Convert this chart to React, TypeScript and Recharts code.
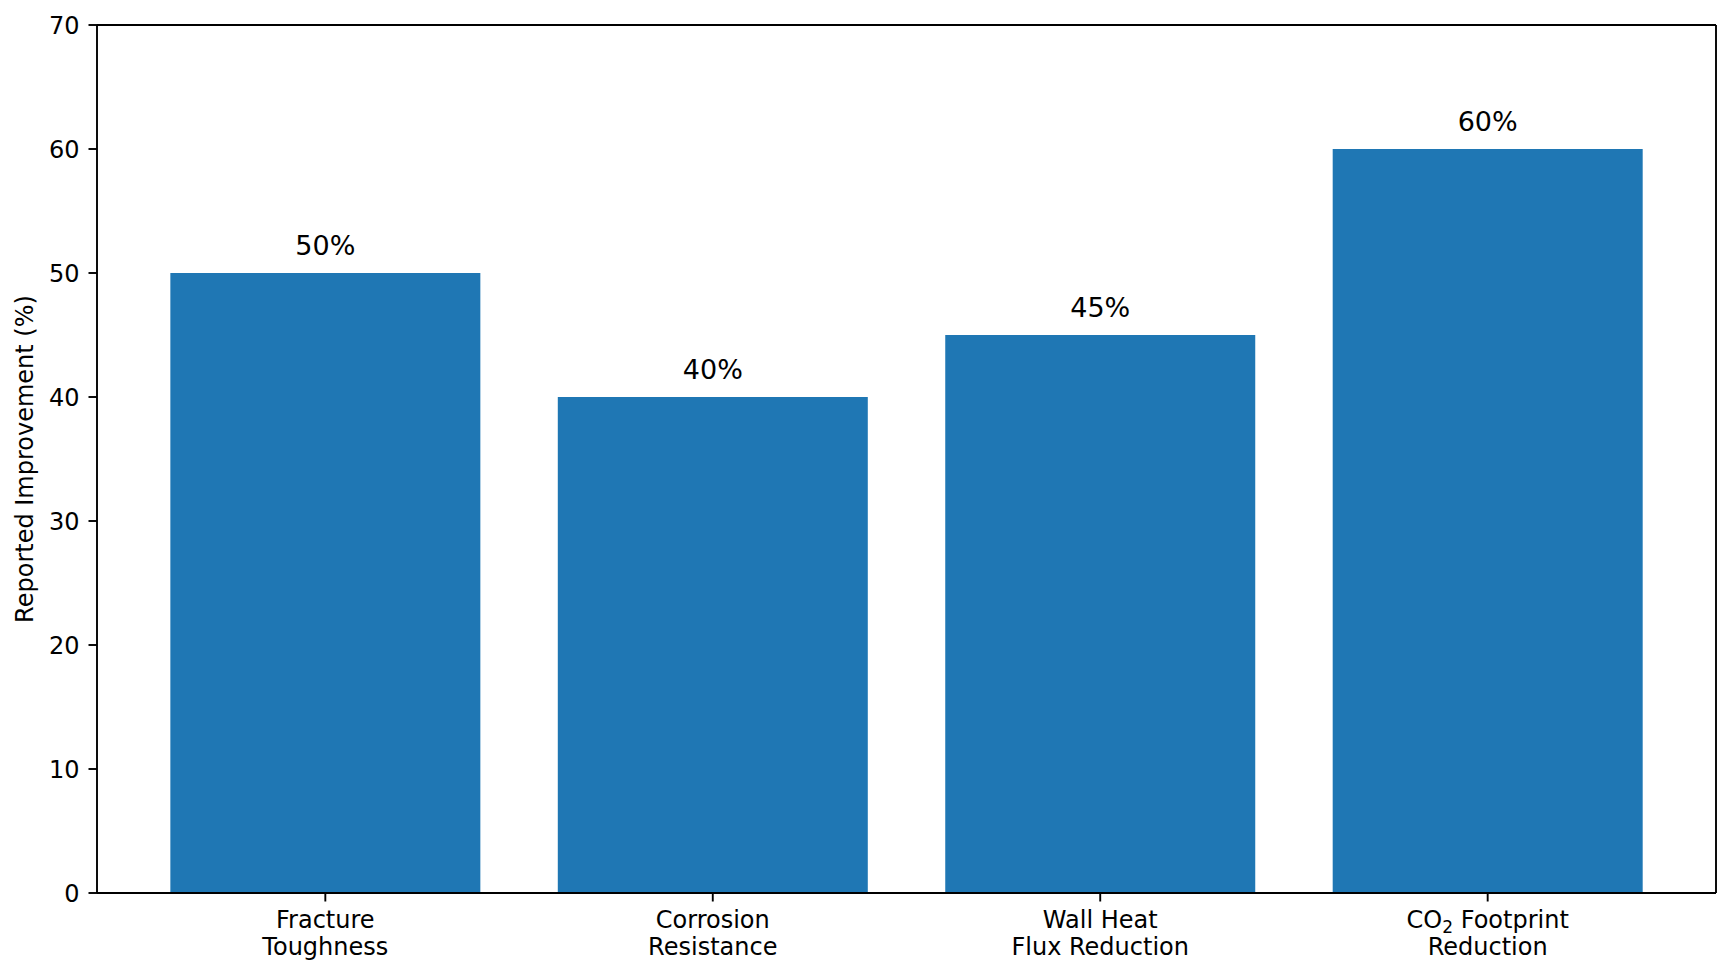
import { ComposedChart, Bar, Line, XAxis, YAxis, LabelList } from 'recharts'

const categories = ['Fracture\nToughness', 'Corrosion\nResistance', 'Wall Heat\nFlux Reduction', 'CO₂ Footprint\nReduction']
const improvement = [50, 40, 45, 60]
const yTicks = [0, 10, 20, 30, 40, 50, 60, 70]

const data = categories.map((name, i) => ({ name, value: improvement[i] }))

const FONT = '"DejaVu Sans", sans-serif'
const BLACK = '#000000'
const SPINE = { stroke: BLACK, strokeWidth: 1.9 }

function renderLine(line: string) {
  // draw "₂" as a real subscript, the way mathtext does
  const parts = line.split('₂')
  if (parts.length === 1) return line
  return (
    <>
      {parts[0]}
      <tspan dy={5} fontSize={17}>2</tspan>
      <tspan dy={-5}>{parts[1]}</tspan>
    </>
  )
}

function CategoryTick(props: any) {
  const { x, y, payload } = props
  const lines = String(payload.value).split('\n')
  return (
    <g transform={`translate(${x},${y})`}>
      <text textAnchor="middle" fontFamily={FONT} fontSize={24} fill={BLACK}>
        {lines.map((line, i) => (
          <tspan key={i} x={0} dy={i === 0 ? 26 : 27.7}>
            {renderLine(line)}
          </tspan>
        ))}
      </text>
    </g>
  )
}

function YLabel(props: any) {
  const { viewBox } = props
  const cy = viewBox.y + viewBox.height / 2
  return (
    <text
      x={25}
      y={cy}
      transform={`rotate(-90, 25, ${cy})`}
      textAnchor="middle"
      dominantBaseline="central"
      fontFamily={FONT}
      fontSize={24}
      fill={BLACK}
    >
      Reported Improvement (%)
    </text>
  )
}

export default function App() {
  return (
    <div style={{ position: 'absolute', left: 0, top: 0, background: '#fff' }}>
      <ComposedChart
        width={1731}
        height={976}
        data={data}
        margin={{ top: 24, right: 14, left: 0, bottom: 0 }}
        barCategoryGap="10%"
      >
        <XAxis
          dataKey="name"
          height={83}
          padding={{ left: 34.6, right: 34.6 }}
          interval={0}
          tick={<CategoryTick />}
          tickSize={8.5}
          tickMargin={0}
          axisLine={SPINE}
          tickLine={SPINE}
        />
        <XAxis
          xAxisId="top"
          orientation="top"
          dataKey="name"
          height={1}
          tick={false}
          tickLine={false}
          axisLine={SPINE}
        />
        <YAxis
          width={97}
          domain={[0, 70]}
          ticks={yTicks}
          interval={0}
          tickSize={8.5}
          tickMargin={9}
          tick={{ fill: BLACK, fontSize: 24, fontFamily: FONT }}
          axisLine={SPINE}
          tickLine={SPINE}
          label={<YLabel />}
        />
        <YAxis
          yAxisId="right"
          orientation="right"
          width={1}
          domain={[0, 70]}
          tick={false}
          tickLine={false}
          axisLine={SPINE}
        />
        <Bar dataKey="value" fill="#1f77b4" isAnimationActive={false}>
          <LabelList
            dataKey="value"
            position="top"
            offset={18}
            formatter={(v: any) => `${v}%`}
            fill={BLACK}
            fontSize={27}
            fontFamily={FONT}
          />
        </Bar>
        {/* invisible series so the top and right frame axes are drawn */}
        <Line
          xAxisId="top"
          yAxisId="right"
          dataKey="value"
          stroke="none"
          dot={false}
          activeDot={false}
          legendType="none"
          isAnimationActive={false}
        />
      </ComposedChart>
    </div>
  )
}
